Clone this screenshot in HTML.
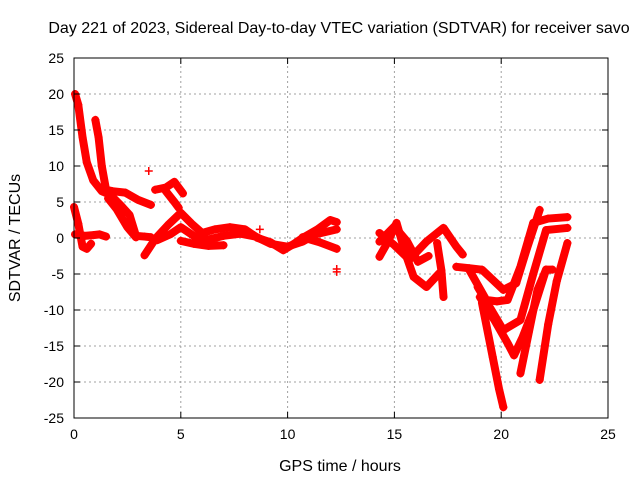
<!DOCTYPE html>
<html><head><meta charset="utf-8"><style>
body{margin:0;background:#fff;}
svg text{font-family:"Liberation Sans",sans-serif;font-size:14px;fill:#000;}
svg text.big{font-size:16px;}
</style></head><body>
<svg id="chart" width="640" height="480">
<text class="big" x="339" y="33" text-anchor="middle">Day 221 of 2023, Sidereal Day-to-day VTEC variation (SDTVAR) for receiver savo</text>
<text class="big" x="340" y="471" text-anchor="middle">GPS time / hours</text>
<text class="big" x="20" y="238" text-anchor="middle" transform="rotate(-90 20 238)">SDTVAR / TECUs</text>
<g id="grid"></g><g id="marks"></g><g id="axes"></g>
</svg>
<script>
const xTicks=[0,5,10,15,20,25];
const yTicks=[-25,-20,-15,-10,-5,0,5,10,15,20,25];
const trackA=[[0.05,20],[0.2,18.5],[0.4,14],[0.6,10.5],[0.9,8],[1.3,6.5],[1.7,6],[2.2,4.5],[2.6,3.2],[2.9,0.3],[3.3,0.2],[3.6,0.1]];
const trackB=[[1.0,16.4],[1.15,14],[1.3,10],[1.5,6.7],[1.8,6.5],[2.4,6.3],[3.0,5.3],[3.6,4.6]];
const trackC=[[1.6,5.5],[2.0,4],[2.5,1.5],[2.9,0.1]];
const trackD=[[0.0,4.3],[0.2,2],[0.4,-1.2],[0.6,-1.5],[0.8,-0.8]];
const trackD2=[[0.05,0.5],[0.5,0.3],[0.9,0.4],[1.2,0.5],[1.5,0.2]];
const trackE=[[3.3,-2.4],[3.5,-1.5],[3.7,-0.6]];
const trackF=[[3.8,6.7],[4.3,7],[4.7,7.8],[5.1,6.2]];
const trackF2=[[4.3,6.5],[4.7,5],[4.9,4.2]];
const trackG=[[3.9,0.2],[4.4,1.8],[5.0,3.5],[5.5,2],[6.0,0.7],[6.6,1.2],[7.3,1.5],[8.0,1.2],[8.6,0],[9.2,-0.6],[9.8,-1.7],[10.3,-0.8],[10.7,0],[11.4,1.2],[12.0,2.5],[12.3,2.2]];
const trackG2=[[3.9,-0.3],[4.5,0.5],[5.0,1.5],[5.6,0.3],[6.3,-0.2],[7.0,0.3],[7.8,0.6],[8.5,0.2],[9.2,-0.8],[10.0,-1.2],[10.7,-0.5],[11.3,0.5],[12.3,1.2]];
const trackG3=[[5.0,-0.4],[5.6,-0.8],[6.3,-1.1],[7.0,-1.0]];
const trackG4=[[10.7,0.1],[11.5,-0.6],[12.3,-1.5]];
const trackH=[[14.3,-2.6],[14.7,-0.5],[15.1,2.1],[15.5,-2],[15.9,-5.4],[16.5,-6.8],[17.1,-4.9]];
const trackI=[[14.3,0.7],[15.0,-1],[15.7,-3],[16.5,-0.5],[17.3,1.4],[17.9,-1.2],[18.2,-2.3]];
const trackI2=[[14.3,-0.5],[15.0,1.6],[15.6,-0.5],[16.1,-3.3],[16.6,-2.5]];
const trackJ=[[17.0,-0.7],[17.2,-4.5],[17.3,-8.2]];
const trackK=[[17.9,-4],[18.5,-4.2],[19.1,-4.4],[19.6,-5.8],[20.1,-7.2],[20.7,-6.3],[21.2,-1.5],[21.8,3.9]];
const trackL=[[18.5,-4.4],[18.9,-6.5],[19.3,-8.6],[19.8,-8.8],[20.3,-8.6],[20.9,-4],[21.5,2.1],[22.2,2.7],[23.1,2.9]];
const trackM=[[18.9,-6.8],[19.5,-9.8],[20.1,-12.8],[20.9,-11.4],[21.5,-5],[22.1,1.1],[23.1,1.4]];
const trackN=[[19.0,-8.2],[19.7,-11.5],[20.3,-14.6],[20.6,-16.3],[21.0,-13.8],[21.5,-10],[22.1,-4.4],[22.4,-4.4]];
const trackO=[[19.1,-9],[19.6,-16.5],[19.9,-21],[20.1,-23.5]];
const trackP=[[20.9,-18.8],[21.3,-13],[21.7,-7.2],[22.1,-4.4]];
const trackQ=[[21.8,-19.7],[22.2,-12],[22.6,-6],[23.1,-0.7]];
const singles=[[3.5,9.3],[8.7,1.2],[12.3,-4.7],[12.3,-4.3]];
const tracks=[trackA,trackB,trackC,trackD,trackD2,trackE,trackF,trackF2,trackG,trackG2,trackG3,trackG4,trackH,trackI,trackI2,trackJ,trackK,trackL,trackM,trackN,trackO,trackP,trackQ];

const X0=74,X1=608,Y0=418,Y1=58;
const sx=t=>X0+(t-0)/25*(X1-X0);
const sy=v=>Y0-(v+25)/50*(Y0-Y1);
const NS='http://www.w3.org/2000/svg';
const grid=document.getElementById('grid'),axes=document.getElementById('axes'),marks=document.getElementById('marks');
function mk(tag,attrs,parent){const e=document.createElementNS(NS,tag);for(const k in attrs)e.setAttribute(k,attrs[k]);parent.appendChild(e);return e;}
xTicks.forEach(t=>{
  if(t>0&&t<25){const g=mk('line',{x1:sx(t),x2:sx(t),y1:Y0,y2:Y1,stroke:'#a0a0a0','stroke-dasharray':'2,3'},grid);
  
  }
  mk('line',{x1:sx(t),x2:sx(t),y1:Y0,y2:Y0-6,stroke:'#000'},axes);
  mk('line',{x1:sx(t),x2:sx(t),y1:Y1,y2:Y1+6,stroke:'#000'},axes);
  const l=mk('text',{x:sx(t),y:Y0+21,'text-anchor':'middle'},axes);l.textContent=t;
  
  
});
yTicks.forEach(v=>{
  if(v>-25&&v<25){const g=mk('line',{x1:X0,x2:X1,y1:sy(v),y2:sy(v),stroke:'#a0a0a0','stroke-dasharray':'2,3'},grid);
  
  }
  mk('line',{x1:X0,x2:X0+6,y1:sy(v),y2:sy(v),stroke:'#000'},axes);
  mk('line',{x1:X1,x2:X1-6,y1:sy(v),y2:sy(v),stroke:'#000'},axes);
  const l=mk('text',{x:X0-10,y:sy(v)+5,'text-anchor':'end'},axes);l.textContent=v;
  
  
});
const fr=mk('rect',{x:X0,y:Y1,width:X1-X0,height:Y0-Y1,fill:'none',stroke:'#000'},axes);


function plus(t,v){const x=sx(t),y=sy(v);
  const p=mk('path',{d:`M${x-4} ${y}H${x+4}M${x} ${y-4}V${y+4}`,stroke:'#f00','stroke-width':1.5},marks);
  
  }
tracks.forEach(tr=>{
  const pl=mk('polyline',{points:tr.map(p=>sx(p[0])+','+sy(p[1])).join(' '),fill:'none',stroke:'#f00','stroke-width':8,'stroke-linejoin':'round','stroke-linecap':'round'},marks);
  
  
  tr.forEach(p=>plus(p[0],p[1]));
});
singles.forEach(p=>plus(p[0],p[1]));
</script>
</body></html>
